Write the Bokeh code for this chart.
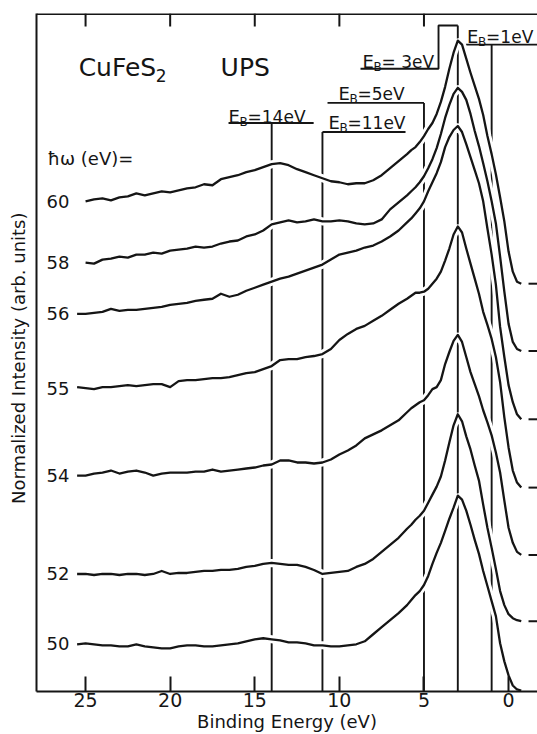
from bokeh.plotting import figure
from bokeh.models import Range1d, FixedTicker
from bokeh.core.properties import value
from bokeh.embed import file_html
from bokeh.resources import INLINE

FONT = "DejaVu Sans"
INK = "#151515"
NaN = float("nan")

# Binding energy grid (eV)
energy = [25.5, 25.0, 24.5, 24.0, 23.5, 23.0, 22.5, 22.0, 21.5, 21.0, 20.5, 20.0,
          19.5, 19.0, 18.5, 18.0, 17.5, 17.0, 16.5, 16.0, 15.5, 15.0, 14.5, 14.0,
          13.5, 13.0, 12.5, 12.0, 11.5, 11.0, 10.5, 10.0, 9.5, 9.0, 8.5, 8.0,
          7.5, 7.0, 6.5, 6.0,
          5.75, 5.5, 5.25, 5.0, 4.75, 4.5, 4.25, 4.0, 3.75, 3.5, 3.25, 3.0,
          2.75, 2.5, 2.25, 2.0, 1.75, 1.5, 1.25, 1.0, 0.75, 0.5, 0.25, 0.0,
          -0.25, -0.5, -0.75]

# photon energies (eV) of the spectra, top to bottom
photon = ["60", "58", "56", "55", "54", "52", "50"]

# normalized intensity (arb. units, offset stacked)
I60 = [NaN, 488, 490, 491, 489, 492, 493, 496, 494, 496, 498, 497, 499, 501, 502, 505, 504, 510, 512, 514,
       517, 519, 522, 525, 526, 524, 520, 517, 514, 511, 508, 507, 505, 506, 506, 509, 514, 521, 528, 535,
       539, 542, 547, 553, 560, 566, 575, 587, 602, 620, 636, 648, 644, 630, 616, 603, 590, 574, 553, 535,
       515, 492, 468, 438, 418, 408, 406]
I58 = [NaN, 427, 426, 430, 431, 433, 432, 435, 435, 437, 436, 439, 440, 441, 443, 442, 443, 446, 448, 449,
       453, 455, 459, 465, 467, 469, 467, 468, 470, 468, 468, 469, 468, 466, 465, 466, 470, 480, 487, 494,
       498, 502, 507, 513, 521, 530, 541, 555, 571, 584, 595, 601, 597, 589, 575, 558, 543, 526, 508, 488,
       466, 433, 398, 366, 348, 341, 339]
I56 = [376, 376, 377, 378, 381, 379, 380, 380, 381, 382, 383, 385, 386, 387, 389, 390, 391, 396, 393, 395,
       399, 402, 405, 408, 411, 413, 416, 419, 422, 425, 430, 435, 437, 439, 442, 444, 448, 453, 459, 467,
       471, 476, 481, 488, 498, 507, 516, 527, 542, 552, 559, 563, 557, 545, 532, 519, 506, 488, 461, 435,
       405, 363, 333, 305, 288, 276, 271]
I55 = [303, 302, 301, 303, 303, 304, 305, 304, 305, 306, 306, 303, 309, 310, 310, 311, 312, 312, 313, 315,
       317, 318, 321, 324, 330, 331, 331, 333, 334, 336, 341, 350, 356, 361, 364, 369, 374, 380, 386, 391,
       394, 397, 397, 398, 401, 406, 411, 418, 429, 441, 455, 463, 457, 441, 426, 411, 396, 378, 365, 351,
       333, 308, 273, 243, 220, 208, 203]
I54 = [215, 215, 217, 218, 220, 217, 219, 220, 218, 215, 217, 218, 218, 218, 219, 219, 221, 219, 220, 221,
       222, 223, 225, 226, 230, 230, 228, 228, 227, 228, 231, 236, 240, 245, 252, 256, 260, 265, 270, 278,
       282, 285, 288, 290, 295, 301, 303, 310, 326, 338, 349, 355, 348, 333, 318, 306, 294, 280, 268, 255,
       238, 218, 190, 163, 148, 139, 136]
I52 = [117, 117, 116, 117, 117, 116, 117, 117, 116, 117, 120, 117, 118, 118, 119, 120, 120, 121, 121, 122,
       124, 125, 127, 128, 127, 126, 126, 124, 121, 117, 118, 119, 120, 124, 127, 132, 139, 146, 153, 162,
       166, 171, 175, 180, 188, 196, 204, 214, 230, 248, 265, 276, 269, 254, 241, 225, 210, 186, 163, 143,
       122, 100, 86, 77, 73, 71, 70]
I50 = [47, 48, 47, 46, 46, 45, 45, 47, 45, 44, 43, 43, 45, 46, 46, 45, 45, 46, 47, 48,
       50, 52, 53, 52, 51, 49, 49, 48, 46, 46, 45, 45, 46, 47, 50, 57, 64, 71, 78, 86,
       91, 96, 100, 106, 115, 127, 138, 148, 160, 172, 183, 195, 191, 180, 166, 151, 137, 120, 105, 90,
       75, 48, 30, 16, 6, 2, 1]
spectra = [I60, I58, I56, I55, I54, I52, I50]

# marked binding energies (eV) and the height where each marker line starts
eb_values = [14, 11, 5, 3, 1]
eb_tops = [566, 557, 586, 663, 644]

x_ticks = [25, 20, 15, 10, 5, 0]
top_ticks = [25, 20, 15, 10, 5]

X_LO, X_HI = 27.9, -1.71
Y_LO, Y_HI = 0, 675
PX = 1 / 16.92  # eV per screen pixel

p = figure(width=537, height=734, x_range=Range1d(X_LO, X_HI), y_range=Range1d(Y_LO, Y_HI),
           output_backend="svg", toolbar_location=None,
           min_border_left=36, min_border_right=0, min_border_top=13, min_border_bottom=0)
p.grid.visible = False
p.outline_line_color = None
p.background_fill_color = "white"

# bottom axis
xa = p.xaxis[0]
xa.ticker = FixedTicker(ticks=x_ticks)
xa.major_tick_in = 15
xa.major_tick_out = 0
xa.minor_tick_in = 0
xa.minor_tick_out = 0
xa.axis_line_width = 2
xa.axis_line_color = INK
xa.major_tick_line_width = 2
xa.major_tick_line_color = INK
xa.major_label_text_font = FONT
xa.major_label_text_font_size = "19px"
xa.major_label_text_color = INK
xa.major_label_standoff = 1
xa.axis_label = "Binding Energy (eV)"
xa.axis_label_text_font = FONT
xa.axis_label_text_font_size = "18px"
xa.axis_label_text_font_style = "normal"
xa.axis_label_text_color = INK
xa.axis_label_standoff = 1

# left axis (line and title only)
ya = p.yaxis[0]
ya.ticker = FixedTicker(ticks=[])
ya.major_tick_in = 0
ya.major_tick_out = 0
ya.minor_tick_in = 0
ya.minor_tick_out = 0
ya.axis_line_width = 2
ya.axis_line_color = INK
ya.axis_label = "Normalized  Intensity  (arb. units)"
ya.axis_label_text_font = FONT
ya.axis_label_text_font_size = "18px"
ya.axis_label_text_font_style = "normal"
ya.axis_label_text_color = INK
ya.axis_label_standoff = 8

# top frame line with inward ticks
p.segment(x0=[X_LO], y0=[Y_HI - 0.5], x1=[X_HI], y1=[Y_HI - 0.5], line_color=INK, line_width=2)
p.segment(x0=top_ticks, y0=[Y_HI - 13] * len(top_ticks), x1=top_ticks, y1=[Y_HI] * len(top_ticks),
          line_color=INK, line_width=2)

# marker lines at the labelled binding energies
p.segment(x0=eb_values, y0=[0] * len(eb_values), x1=eb_values, y1=eb_tops,
          line_color=INK, line_width=1.9)

# label underlines / bracket
p.multi_line(xs=[[16.55, 11.52], [11.0, 6.09], [10.70, 5.0], [8.75, 4.14, 4.14, 3.0], [2.54, X_HI]],
             ys=[[566, 566], [557, 557], [586, 586], [620, 620, 663, 663], [644, 644]],
             line_color=INK, line_width=1.9)

# white halos so marker lines break where spectra cross
for s in spectra:
    p.line(energy, s, line_color="white", line_width=8)

for s in spectra:
    p.line(energy, s, line_color=INK, line_width=2.3, line_join="round")

# short zero-level dashes on the right
tails = [s[-1] for s in spectra[:-1]]
p.segment(x0=[-1.18] * len(tails), y0=tails, x1=[X_HI] * len(tails), y1=tails,
          line_color=INK, line_width=2)

# spectrum labels
p.text(x=[25.95] * len(photon), y=[s[1] for s in spectra], text=photon,
       text_font=value(FONT), text_font_size="18px", text_align="right",
       text_baseline="middle", text_color=INK)

# title texts
p.text(x=[25.41], y=[621], text=["CuFeS"], text_font=value(FONT), text_font_size="25px",
       text_align="left", text_baseline="alphabetic", text_color=INK)
p.text(x=[20.85], y=[613], text=["2"], text_font=value(FONT), text_font_size="17px",
       text_align="left", text_baseline="alphabetic", text_color=INK)
p.text(x=[17.02], y=[621], text=["UPS"], text_font=value(FONT), text_font_size="25px",
       text_align="left", text_baseline="alphabetic", text_color=INK)
p.text(x=[27.25], y=[531], text=["ħω (eV)="], text_font=value(FONT), text_font_size="18px",
       text_align="left", text_baseline="alphabetic", text_color=INK)

# E_B labels
eb_label_x = [16.55, 10.64, 10.05, 8.63, 2.45]
eb_label_y = [572, 566, 595, 627, 652]
eb_label_txt = ["=14eV", "=11eV", "=5eV", "= 3eV", "=1eV"]
p.text(x=eb_label_x, y=eb_label_y, text=["E"] * 5, text_font=value(FONT), text_font_size="18px",
       text_align="left", text_baseline="alphabetic", text_color=INK)
p.text(x=[v - 11 * PX for v in eb_label_x], y=[v - 5 for v in eb_label_y], text=["B"] * 5,
       text_font=value(FONT), text_font_size="12px", text_align="left",
       text_baseline="alphabetic", text_color=INK)
p.text(x=[v - 19 * PX for v in eb_label_x], y=eb_label_y, text=eb_label_txt,
       text_font=value(FONT), text_font_size="17px", text_align="left",
       text_baseline="alphabetic", text_color=INK)

open("out.html", "w").write(file_html(p, INLINE))
